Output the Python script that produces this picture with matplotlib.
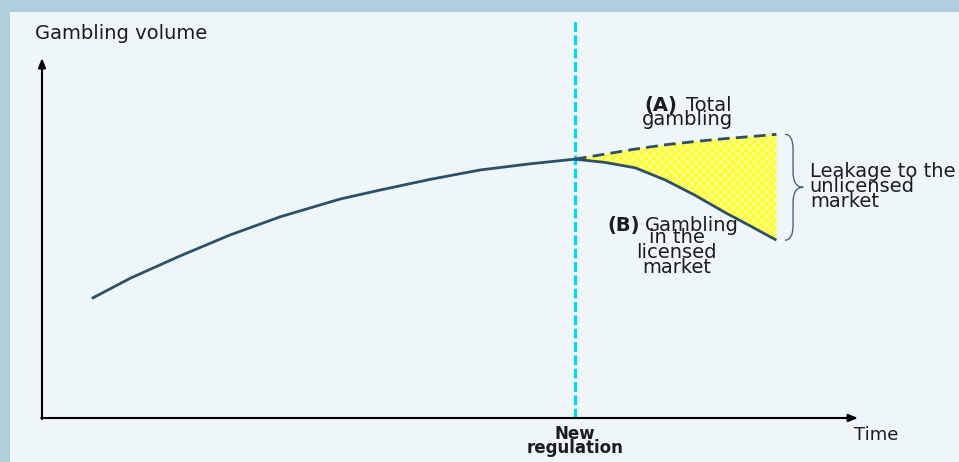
import matplotlib
matplotlib.use("Agg")
import matplotlib.pyplot as plt
from matplotlib.patches import Rectangle, PathPatch
from matplotlib.path import Path

plt.rcParams['font.family'] = ['DejaVu Sans']
plt.rcParams['lines.scale_dashes'] = False
plt.rcParams['hatch.linewidth'] = 0.8

# Stylised gambling volume over time (index units)
time_before = [6.1, 10.8, 16.9, 23.0, 29.2, 36.5, 41.4, 47.6, 53.7, 59.8, 65.3]
volume_before = [33.2, 38.8, 45.0, 50.8, 55.9, 60.8, 63.3, 66.3, 68.9, 70.6, 71.9]

time_after = [65.3, 69.0, 72.7, 76.4, 80.0, 83.7, 87.0, 90.0]
volume_total = [71.9, 73.3, 74.7, 75.9, 76.8, 77.6, 78.2, 78.8]      # (A) total gambling
volume_licensed = [71.9, 71.0, 69.5, 66.1, 61.9, 57.1, 53.1, 49.4]   # (B) licensed market

regulation_time = 65.3
axis_end_time = 100
axis_end_volume = 100

LINE = '#2d5068'
CYAN = '#00d9f5'
TEXT = '#1c1c1c'

W, H = 959, 462
fig = plt.figure(figsize=(W / 100, H / 100), dpi=100)
fig.patch.set_facecolor('#aecfdc')
fig.patches.append(Rectangle((10 / W, 0), 1 - 10 / W, 1 - 12 / H,
                             transform=fig.transFigure, facecolor='#eef6f9',
                             edgecolor='none', zorder=-5))

ax = fig.add_axes([0, 0, 1, 1])
ax.set_zorder(1)
ax.set_facecolor('none')
ax.set_xlim(-42 / 8.16, (W - 42) / 8.16)
ax.set_ylim((418 - H) / 3.6, 418 / 3.6)
ax.axis('off')

# axes with arrow heads
arrow = dict(arrowstyle='-|>,head_length=0.55,head_width=0.22', color='black',
             lw=1.5, shrinkA=0, shrinkB=0)
ax.annotate('', xy=(axis_end_time, 0), xytext=(-0.1, 0), arrowprops=arrow)
ax.annotate('', xy=(0, axis_end_volume), xytext=(0, -0.3), arrowprops=arrow)

# regulation marker
ax.plot([regulation_time, regulation_time], [0, 110.6], color=CYAN, lw=2.3,
        dashes=(7, 2.6), zorder=2)

# leakage area between total and licensed gambling
ax.fill_between(time_after, volume_licensed, volume_total, facecolor='#ffff2e',
                edgecolor='#fdfbb0', hatch='xxxx', linewidth=0, zorder=1)

ax.plot(time_before, volume_before, color=LINE, lw=2.0, solid_capstyle='butt',
        solid_joinstyle='round', zorder=3)
ax.plot(time_after, volume_licensed, color=LINE, lw=2.0, solid_capstyle='butt',
        solid_joinstyle='round', zorder=3)
ax.plot(time_after, volume_total, color=LINE, lw=2.0, dashes=(8.5, 4.5), zorder=3)


def brace(x0, y_top, y_bot, w):
    """Right-pointing curly brace between y_top and y_bot."""
    ym = (y_top + y_bot) / 2
    xa = x0 + w * 0.44
    xt = x0 + w
    r = (y_top - y_bot) * 0.14
    verts = [(x0, y_top), (xa, y_top), (xa, y_top - r),
             (xa, ym + r),
             (xa, ym), (xt, ym),
             (xa, ym), (xa, ym - r),
             (xa, y_bot + r),
             (xa, y_bot), (x0, y_bot)]
    codes = [Path.MOVETO,
             Path.CURVE3, Path.CURVE3,
             Path.LINETO,
             Path.CURVE3, Path.CURVE3,
             Path.CURVE3, Path.CURVE3,
             Path.LINETO,
             Path.CURVE3, Path.CURVE3]
    return Path(verts, codes)


ax.add_patch(PathPatch(brace(91.05, volume_total[-1], volume_licensed[-1], 2.25),
                       facecolor='none', edgecolor='#3c5a70', lw=0.9))

fs = 14
ax.text(-0.86, 105.3, 'Gambling volume', fontsize=fs, color=TEXT, ha='left', va='baseline')
ax.text(99.5, -6.1, 'Time', fontsize=13, color=TEXT, ha='left', va='baseline')
ax.text(regulation_time, -5.8, 'New', fontsize=12, fontweight='bold',
        color=TEXT, ha='center', va='baseline')
ax.text(regulation_time, -9.7, 'regulation', fontsize=12, fontweight='bold',
        color=TEXT, ha='center', va='baseline')

ax.text(77.8, 85.3, '(A)', fontsize=fs, fontweight='bold', color=TEXT, ha='right', va='baseline')
ax.text(78.9, 85.3, 'Total', fontsize=fs, color=TEXT, ha='left', va='baseline')
ax.text(79.1, 81.4, 'gambling', fontsize=fs, color=TEXT, ha='center', va='baseline')

ax.text(73.3, 51.9, '(B)', fontsize=fs, fontweight='bold', color=TEXT, ha='right', va='baseline')
ax.text(73.9, 51.9, 'Gambling', fontsize=fs, color=TEXT, ha='left', va='baseline')
for label, base in [('in the', 48.5), ('licensed', 44.4), ('market', 40.2)]:
    ax.text(77.8, base, label, fontsize=fs, color=TEXT, ha='center', va='baseline')

for label, base in [('Leakage to the', 66.9), ('unlicensed', 62.8), ('market', 58.6)]:
    ax.text(94.1, base, label, fontsize=fs, color=TEXT, ha='left', va='baseline')

fig.savefig('out.png', dpi=100, facecolor=fig.get_facecolor())
